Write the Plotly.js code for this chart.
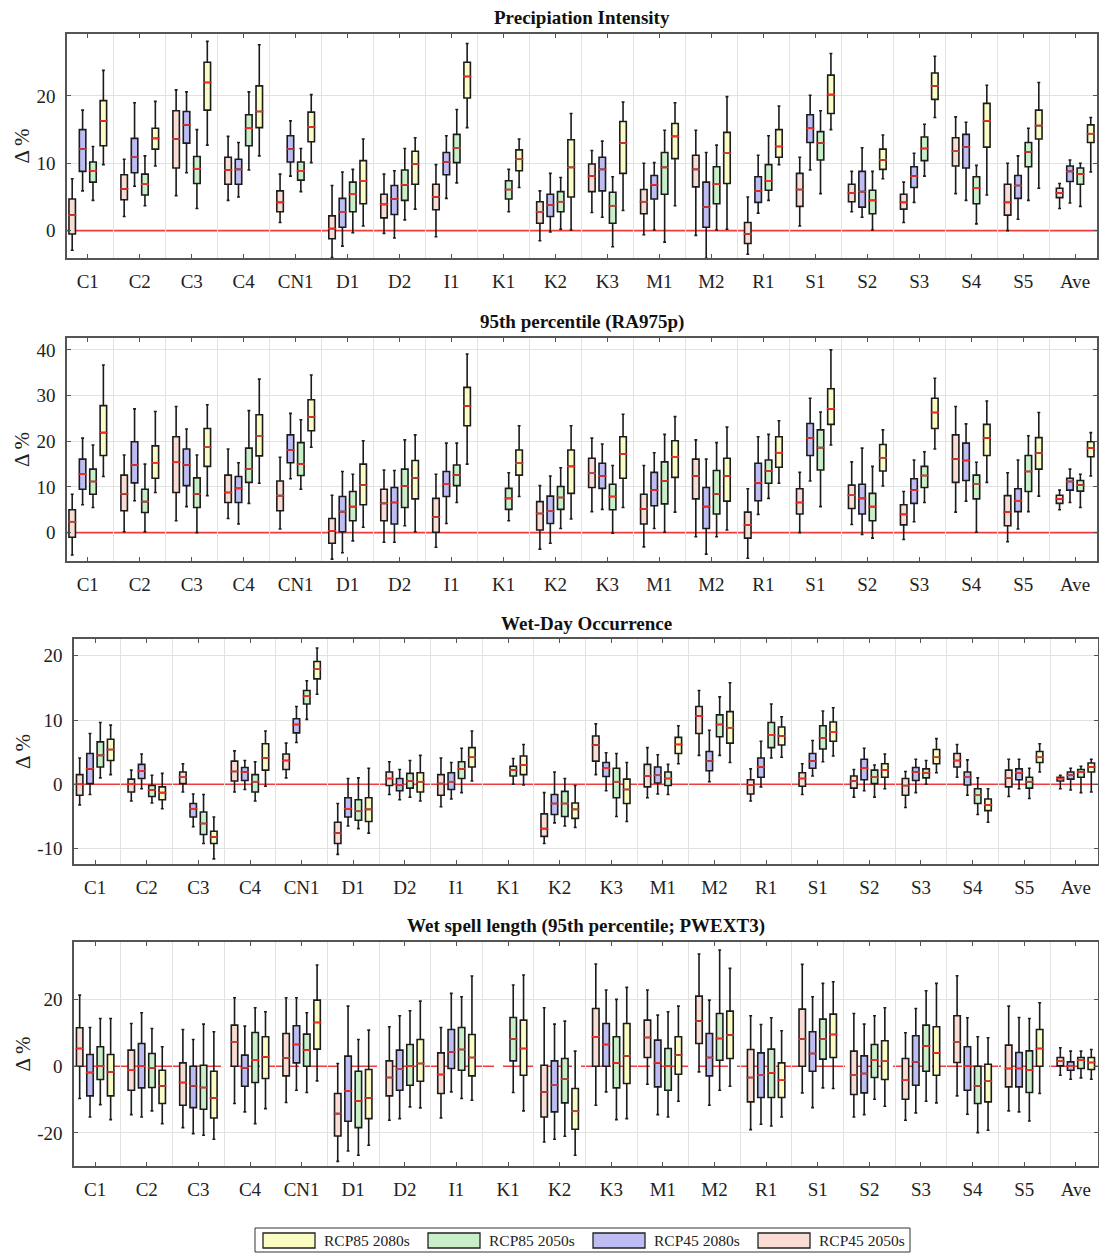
<!DOCTYPE html>
<html><head><meta charset="utf-8">
<script src="https://cdn.plot.ly/plotly-3.0.1.min.js"></script>
<style>html,body{margin:0;padding:0;background:#fff}#chart{width:1099px;height:1254px}</style>
</head><body><div id="chart"></div>
<script>
// ---------------- DATA ----------------
const categories = ['C1','C2','C3','C4','CN1','D1','D2','I1','K1','K2','K3','M1','M2','R1','S1','S2','S3','S4','S5','Ave'];
const seriesNames = ['RCP45 2050s','RCP45 2080s','RCP85 2050s','RCP85 2080s'];
const panelTitles = ['Precipiation Intensity','95th percentile (RA975p)','Wet-Day Occurrence','Wet spell length (95th percentile; PWEXT3)'];
const yTicks1 = [0,10,20];
const yTicks2 = [0,10,20,30,40];
const yTicks3 = [-10,0,10,20];
const yTicks4 = [-20,0,20];
// each row: [lower whisker, q1, median, q3, upper whisker]

// Panel 1: Precipitation intensity
const INT_45_2050s = [[-2.9,-0.5,2.3,4.7,7.7],[2.1,4.6,6.2,8.3,10.6],[5.2,9.3,13.6,17.8,20.9],[4.5,6.9,9.0,10.9,14.0],[1.2,2.8,4.2,5.9,8.4],[-4.0,-1.2,0.3,2.2,6.7],[-0.4,1.9,3.9,5.4,8.4],[-0.9,3.1,5.0,6.9,9.8],null,[-1.5,1.1,2.8,4.3,5.9],[2.7,5.8,8.1,9.9,11.9],[-0.6,2.5,4.3,6.1,10.0],[-0.7,6.5,9.1,11.2,14.9],[-3.5,-1.9,-0.5,1.2,5.0],[0.7,3.6,6.1,8.5,10.9],[2.8,4.3,5.6,6.9,8.8],[1.2,3.2,4.2,5.4,7.2],[5.5,9.6,11.8,13.8,16.9],[0.0,2.3,4.2,6.9,10.0],[3.3,4.9,5.6,6.3,7.0]];
const INT_45_2080s = [[5.9,8.8,12.1,15.0,17.9],[6.6,8.6,10.9,13.7,19.0],[8.6,13.0,15.7,17.7,20.6],[5.0,6.9,9.1,10.6,13.1],[8.1,10.2,12.1,14.1,16.3],[-2.3,0.5,2.8,4.8,8.7],[-1.1,2.4,4.7,6.7,8.9],[4.8,8.3,10.2,11.6,14.1],null,[-0.2,2.1,3.8,5.4,8.5],[2.0,5.9,9.1,10.9,13.3],[0.1,4.7,6.8,8.2,10.1],[-4.1,0.5,3.5,7.2,11.6],[2.6,4.2,5.9,8.0,11.2],[9.0,13.1,15.2,17.2,20.1],[2.0,3.5,5.8,8.8,12.3],[4.2,6.4,8.1,9.5,11.5],[4.5,9.3,12.4,14.3,16.1],[1.7,4.8,6.7,8.2,11.1],[4.1,7.3,8.8,9.6,10.5]];
const INT_85_2050s = [[4.5,7.2,8.9,10.2,12.5],[3.7,5.3,6.9,8.4,11.1],[3.3,7.0,9.2,11.0,15.0],[9.0,12.6,15.2,17.2,20.6],[5.8,7.5,8.9,10.2,12.2],[-0.3,2.8,5.4,7.2,9.1],[1.6,4.5,6.8,9.0,12.2],[7.1,10.1,12.3,14.3,18.0],[2.8,4.7,6.1,7.4,9.1],[0.2,2.8,4.3,5.8,7.9],[-2.4,1.1,3.7,5.7,8.0],[-1.7,5.4,9.4,11.6,14.9],[0.1,4.0,6.9,9.5,12.7],[4.5,6.0,7.4,9.8,14.1],[5.5,10.5,13.0,14.7,17.8],[0.1,2.5,4.5,6.0,8.8],[8.1,10.4,12.2,13.9,15.8],[1.0,4.0,6.3,8.0,9.7],[4.5,9.5,11.7,13.1,15.2],[3.6,6.9,8.4,9.3,10.0]];
const INT_85_2080s = [[9.8,12.6,16.3,19.3,23.8],[9.6,12.1,13.7,15.2,19.2],[12.7,17.9,22.0,25.0,28.1],[11.1,15.3,17.7,21.5,27.6],[10.1,13.2,15.4,17.6,20.2],[0.7,4.0,7.4,10.4,13.6],[3.2,6.9,9.9,11.8,13.8],[15.3,19.7,22.9,25.0,27.8],[6.4,8.9,10.6,12.0,13.6],[0.1,5.0,9.4,13.5,17.4],[3.0,8.5,13.0,16.2,19.1],[3.7,10.7,14.0,15.9,19.0],[0.2,7.0,11.5,14.6,19.9],[9.8,10.9,12.5,15.0,18.5],[15.0,17.4,20.2,23.1,26.3],[7.7,9.1,10.5,12.1,14.2],[16.8,19.5,21.5,23.4,25.9],[5.3,12.4,16.3,18.9,21.6],[6.3,13.6,15.6,17.9,22.0],[8.7,13.1,14.4,15.7,16.8]];

// Panel 2: 95th percentile (RA975p)
const P95_45_2050s = [[-4.9,-1.0,2.4,5.0,8.4],[0.2,4.8,8.5,12.6,17.0],[2.6,8.8,15.4,21.0,27.6],[3.1,6.6,8.8,12.6,18.3],[0.8,4.8,8.1,11.3,16.5],[-5.8,-2.3,0.4,3.1,8.2],[-2.1,2.6,6.4,9.5,13.7],[-3.2,0.1,3.4,7.5,12.8],null,[-3.6,0.6,4.2,6.8,10.3],[4.6,9.9,13.0,16.3,20.7],[-3.1,1.9,5.2,8.4,14.7],[-0.9,7.4,12.4,16.1,20.3],[-5.6,-1.2,1.7,4.5,9.6],[0.0,4.1,6.6,9.6,13.2],[1.8,5.3,8.2,10.4,15.5],[-1.5,1.7,4.0,6.1,9.0],[4.5,11.0,16.1,21.4,27.6],[-2.0,1.5,4.5,8.1,13.1],[5.0,6.4,7.4,8.2,9.3]];
const P95_45_2080s = [[6.1,9.5,12.8,16.1,20.7],[7.0,10.9,14.8,19.9,27.1],[5.7,10.3,14.8,18.3,22.7],[1.9,6.6,9.7,12.3,15.3],[11.8,15.3,18.1,21.4,26.1],[-4.4,0.2,4.6,7.9,13.4],[-2.1,1.9,6.6,9.9,13.6],[2.0,7.9,10.6,13.4,19.6],null,[-2.3,2.0,4.7,8.0,12.4],[5.1,9.7,12.4,15.2,19.4],[0.9,5.9,9.3,13.2,17.5],[-4.7,0.9,5.7,9.9,16.1],[4.0,7.0,10.9,15.2,21.0],[11.3,16.9,20.7,23.9,29.4],[-0.4,4.1,7.5,10.6,18.5],[2.4,6.4,9.3,11.8,15.9],[6.9,11.4,15.8,19.6,23.8],[0.8,4.6,7.0,9.6,15.9],[6.6,9.3,11.2,11.9,13.9]];
const P95_85_2050s = [[5.5,8.4,11.2,13.9,19.2],[0.2,4.4,6.8,9.5,15.0],[0.0,5.5,8.5,12.0,17.0],[6.4,11.0,13.9,18.5,26.7],[9.5,12.5,15.0,19.7,24.7],[-1.8,2.6,5.7,9.0,12.8],[1.5,5.5,10.2,13.9,20.3],[6.6,10.3,12.6,14.8,19.6],[2.6,5.1,7.5,9.7,13.1],[0.9,5.1,7.7,10.1,14.2],[-0.1,5.0,7.9,10.6,14.7],[0.1,6.3,11.3,15.5,21.5],[-0.9,4.1,8.5,13.6,19.7],[7.5,10.8,13.5,15.9,21.5],[5.7,13.7,18.6,22.5,26.4],[-1.2,2.6,5.7,8.6,14.5],[6.6,9.9,12.5,14.5,17.7],[0.1,7.4,10.7,12.6,15.4],[4.6,9.0,13.4,16.9,21.2],[5.5,9.1,10.4,11.4,12.8]];
const P95_85_2080s = [[12.3,16.9,21.9,27.8,36.7],[8.8,11.9,15.3,19.0,26.5],[8.1,14.5,18.7,22.8,28.0],[10.8,16.8,21.2,25.8,33.6],[18.7,22.3,25.3,29.1,34.5],[1.2,6.1,10.4,15.0,20.1],[0.2,7.4,12.0,15.8,21.4],[15.0,23.4,27.7,31.8,39.1],[7.9,12.6,15.2,18.1,23.4],[3.0,8.6,14.5,18.1,23.4],[5.5,11.9,17.2,21.0,25.9],[4.5,12.1,16.6,20.1,25.4],[0.6,6.9,12.4,16.3,23.1],[10.8,14.3,17.5,21.0,24.5],[19.2,23.7,27.1,31.5,40.0],[10.2,13.5,16.4,19.3,22.5],[18.3,22.8,26.3,29.4,33.8],[11.0,16.9,20.7,23.7,28.8],[8.0,13.9,17.4,20.8,26.3],[12.4,16.6,18.5,19.9,21.9]];

// Panel 3: Wet-day occurrence
const WDO_45_2050s = [[-3.2,-1.7,0.0,1.5,4.1],[-2.6,-1.2,0.0,0.8,2.2],[-1.2,0.1,1.1,1.9,3.2],[-1.2,0.5,2.0,3.6,5.2],[1.0,2.3,3.7,4.7,6.4],[-10.9,-9.2,-7.6,-5.9,-3.0],[-1.6,-0.2,0.9,1.9,3.5],[-3.5,-1.7,0.1,1.5,4.1],null,[-9.2,-8.1,-6.9,-4.6,-1.3],[1.5,3.6,6.1,7.5,9.4],[-2.1,-0.4,1.3,3.1,5.7],[4.5,7.9,10.6,12.1,14.6],[-2.6,-1.5,-0.1,0.7,2.4],[-1.6,-0.3,0.9,1.8,3.2],[-2.0,-0.6,0.5,1.3,2.3],[-3.6,-1.7,-0.2,0.9,2.0],[1.1,2.7,3.7,4.8,6.2],[-1.9,-0.4,1.0,2.2,3.9],[-0.7,0.5,0.9,1.1,1.4]];
const WDO_45_2080s = [[-1.6,0.1,2.4,4.8,7.9],[-0.7,0.9,2.1,3.1,4.7],[-6.6,-5.1,-3.8,-3.0,-1.5],[-0.8,0.6,1.9,2.6,3.7],[6.5,8.0,9.3,10.2,12.1],[-6.5,-5.1,-3.8,-2.1,0.9],[-2.4,-1.0,-0.1,0.9,2.3],[-2.3,-0.8,0.4,1.8,3.4],null,[-6.0,-4.7,-3.0,-1.6,1.9],[-1.0,1.2,2.5,3.4,4.9],[-1.5,0.2,1.4,2.7,4.6],[0.4,2.1,3.6,5.1,8.4],[-0.4,1.1,2.7,4.1,6.7],[1.3,2.5,3.6,4.8,6.8],[-1.0,0.7,2.5,3.9,5.6],[-1.3,0.6,1.9,2.6,3.9],[-1.7,-0.1,1.1,1.9,3.8],[-0.7,0.7,1.8,2.4,3.9],[-0.9,0.8,1.4,1.9,2.5]];
const WDO_85_2050s = [[1.0,2.7,4.5,6.6,9.6],[-2.9,-1.9,-0.9,-0.2,1.4],[-9.2,-7.8,-6.1,-4.3,-1.6],[-2.6,-1.2,0.4,1.5,3.5],[10.1,12.5,13.7,14.6,16.1],[-6.9,-5.6,-4.2,-2.4,1.0],[-2.0,-0.6,0.5,1.7,3.7],[-1.3,0.9,2.4,3.5,5.6],[0.0,1.3,2.2,2.8,4.0],[-6.5,-5.0,-3.0,-1.1,0.9],[-5.0,-2.1,0.4,2.5,4.8],[-1.6,-0.2,0.9,1.9,3.1],[4.5,7.4,9.3,10.8,13.6],[4.1,5.7,7.7,9.6,12.5],[3.5,5.5,7.2,9.1,11.4],[-2.0,0.1,1.1,2.2,3.0],[0.0,1.0,1.8,2.4,3.7],[-4.7,-3.0,-1.7,-0.7,1.0],[-2.2,-0.6,0.4,1.1,2.5],[-1.3,1.1,1.9,2.3,2.8]];
const WDO_85_2080s = [[1.5,3.7,5.4,7.0,9.2],[-3.8,-2.4,-1.3,-0.4,1.7],[-11.6,-9.2,-8.2,-7.3,-5.1],[-0.3,2.2,4.1,6.3,8.3],[14.0,16.4,17.9,19.1,21.2],[-7.6,-5.8,-3.9,-2.1,2.5],[-2.6,-1.2,0.4,1.8,4.5],[0.5,2.7,4.2,5.7,8.3],[-0.1,1.5,3.0,4.4,6.2],[-6.7,-5.3,-3.9,-2.9,-0.2],[-5.8,-3.0,-0.8,0.8,3.4],[3.2,4.8,6.2,7.3,9.1],[3.4,6.4,8.8,11.3,15.8],[4.2,6.1,7.5,8.9,10.5],[4.4,6.7,8.1,9.7,11.9],[-0.7,1.1,2.2,3.2,4.7],[1.8,3.2,4.2,5.4,7.1],[-5.9,-4.1,-3.2,-2.3,-0.7],[1.9,3.4,4.2,5.1,6.3],[-1.2,1.9,2.7,3.3,3.9]];

// Panel 4: Wet spell length (PWEXT3)
const WSL_45_2050s = [[-9.7,0.0,5.3,11.5,21.3],[-14.5,-7.2,-1.2,4.8,12.8],[-18.4,-11.7,-4.9,1.0,11.0],[-11.2,0.0,7.3,12.3,20.5],[-10.9,-2.9,2.5,9.8,20.5],[-28.5,-20.9,-14.2,-8.2,0.8],[-16.2,-8.9,-3.4,1.6,11.8],[-15.5,-8.2,-2.5,4.0,11.6],null,[-22.7,-15.2,-7.7,0.3,17.5],[-11.7,0.0,8.8,17.3,30.6],[-5.4,2.6,8.6,13.8,22.8],[-1.7,6.8,13.5,21.0,33.6],[-19.0,-10.7,-3.4,5.0,15.1],[-8.0,0.0,8.1,17.1,30.5],[-15.2,-8.5,-2.7,4.5,15.8],[-16.2,-9.9,-4.2,2.3,10.0],[-8.9,1.1,7.3,15.1,27.1],[-13.4,-6.2,-0.7,6.3,18.0],[-2.7,0.1,1.5,2.6,5.5]];
const WSL_45_2080s = [[-15.2,-8.9,-1.9,3.5,11.6],[-15.2,-6.5,0.0,6.8,16.0],[-20.2,-12.4,-5.9,0.0,8.0],[-13.7,-6.0,-0.5,3.3,12.0],[-7.2,1.0,6.5,12.1,20.5],[-25.4,-16.5,-7.4,3.0,18.0],[-15.7,-7.2,-0.9,4.8,15.1],[-7.7,-0.7,4.3,11.0,21.8],null,[-21.9,-13.7,-5.7,1.6,12.6],[-7.7,0.0,6.5,12.8,22.8],[-14.5,-6.2,1.0,7.8,15.3],[-11.7,-2.9,2.6,9.8,19.8],[-17.4,-9.4,-2.7,4.0,12.5],[-12.4,-1.5,3.8,10.3,20.8],[-14.5,-8.0,-2.2,3.1,12.6],[-14.0,-5.7,1.3,9.1,17.3],[-14.4,-7.2,0.0,5.8,14.5],[-13.7,-6.2,-0.7,4.1,14.6],[-3.9,-1.2,0.0,1.3,4.5]];
const WSL_85_2050s = [[-11.5,-4.0,0.0,5.8,14.3],[-13.4,-6.4,-0.5,3.8,11.3],[-20.7,-12.9,-6.4,0.3,12.6],[-17.2,-4.9,1.8,10.1,17.5],[-7.9,0.0,4.8,9.6,16.0],[-26.7,-18.4,-10.4,-1.5,8.0],[-12.2,-5.7,0.0,6.5,16.6],[-9.7,-1.2,5.0,11.6,20.8],[-7.9,1.6,8.1,14.6,24.3],[-21.0,-11.0,-3.9,2.3,13.5],[-16.0,-6.5,1.0,8.8,20.0],[-15.2,-7.2,0.0,5.3,16.3],[-7.2,1.8,8.3,15.8,34.8],[-17.9,-9.4,-2.0,5.1,14.5],[-6.5,2.1,8.1,14.1,24.8],[-9.9,-3.4,1.8,6.5,15.1],[-10.5,-1.5,6.0,12.3,22.6],[-19.9,-11.2,-5.9,0.0,8.8],[-16.4,-7.9,-1.2,4.6,14.3],[-3.5,-0.7,1.8,2.6,4.5]];
const WSL_85_2080s = [[-16.0,-8.9,-1.7,3.5,14.3],[-17.2,-11.2,-5.9,-1.2,5.8],[-21.9,-15.5,-9.5,-1.5,10.3],[-12.7,-3.7,2.8,8.8,16.3],[-4.4,5.1,13.1,19.8,30.3],[-23.7,-15.7,-9.5,-1.0,10.8],[-12.5,-4.5,0.8,8.0,19.5],[-10.2,-2.9,2.6,9.5,27.0],[-13.4,-2.7,5.3,13.8,27.3],[-26.7,-18.9,-13.5,-6.7,4.5],[-15.7,-5.2,3.1,12.8,23.6],[-10.5,-2.4,3.3,8.8,18.0],[-6.0,2.3,9.3,16.5,29.3],[-15.2,-9.4,-4.2,1.0,10.6],[-6.7,2.6,9.5,15.6,25.3],[-12.0,-4.0,1.5,7.6,17.5],[-11.0,-2.7,4.0,11.8,24.8],[-19.2,-10.7,-4.5,0.6,8.5],[-8.2,0.0,5.3,11.0,19.0],[-3.9,-1.0,1.1,2.6,5.0]];

// ---------------- STYLE / LAYOUT ----------------
const FONT = "'Liberation Serif','Times New Roman',serif";
const fills = ['#f9dcd3','#bdbdf3','#c8efc8','#fbfbc4'];
const offsets = [-0.3,-0.1,0.1,0.3];
const W = 1099, H = 1254;
const px = v => v / W, py = v => 1 - v / H;

const panels = [
  {data:[INT_45_2050s,INT_45_2080s,INT_85_2050s,INT_85_2080s], xpx:[67,1097], ypx:[34,258], xr:[-0.40,19.42], yr:[-4.06,29.2], yt:yTicks1, dash:'solid'},
  {data:[P95_45_2050s,P95_45_2080s,P95_85_2050s,P95_85_2080s], xpx:[67,1097], ypx:[338,561], xr:[-0.40,19.42], yr:[-6.2,42.6], yt:yTicks2, dash:'solid'},
  {data:[WDO_45_2050s,WDO_45_2080s,WDO_85_2050s,WDO_85_2080s], xpx:[74,1098], ypx:[639,864], xr:[-0.41,19.43], yr:[-12.4,22.6], yt:yTicks3, dash:'solid'},
  {data:[WSL_45_2050s,WSL_45_2080s,WSL_85_2050s,WSL_85_2080s], xpx:[74,1098], ypx:[942,1166], xr:[-0.41,19.43], yr:[-29.9,37.2], yt:yTicks4, dash:'30px,9px'}
];

const traces = [];
const layout = {
  width: W, height: H, margin:{l:0,r:0,t:0,b:0},
  paper_bgcolor:'#fff', plot_bgcolor:'#fff', showlegend:false,
  font:{family:FONT, color:'#222'},
  shapes:[], annotations:[]
};

panels.forEach((p, pi) => {
  const k = pi + 1;
  const xa = k === 1 ? 'x' : 'x' + k, ya = k === 1 ? 'y' : 'y' + k;
  p.data.forEach((rows, s) => {
    const x=[], lo=[], q1=[], med=[], q3=[], hi=[];
    rows.forEach((r, i) => {
      if (!r) return;
      x.push(i + offsets[s]); lo.push(r[0]); q1.push(r[1]); med.push(r[2]); q3.push(r[3]); hi.push(r[4]);
    });
    traces.push({type:'box', name:seriesNames[s], x:x, q1:q1, median:med, q3:q3, lowerfence:lo, upperfence:hi,
      xaxis:xa, yaxis:ya, width:0.125, whiskerwidth:0.45, boxpoints:false, fillcolor:fills[s],
      line:{color:'#1c1c1c', width:1.6}, hoverinfo:'skip', showlegend:false});
    traces.push({type:'scatter', mode:'markers', x:x, y:med, xaxis:xa, yaxis:ya, hoverinfo:'skip', showlegend:false,
      marker:{symbol:'line-ew', size:6, color:'#e8302a', line:{color:'#e8302a', width:1.6}}});
  });
  const axName = k === 1 ? '' : String(k);
  layout['xaxis' + axName] = {
    domain:[px(p.xpx[0]), px(p.xpx[1])], range:p.xr, anchor:ya,
    tickmode:'array', tickvals:categories.map((c,i)=>i), ticktext:categories,
    tickfont:{family:FONT, size:19, color:'#222'}, ticklabelstandoff:6,
    ticks:'inside', ticklen:4, tickcolor:'#555', showgrid:false, zeroline:false,
    showline:true, linecolor:'#555', linewidth:1.6, mirror:'ticks',
    minor:{tickmode:'array', tickvals:categories.map((c,i)=>i+0.5), showgrid:true, gridcolor:'#e2e2e2', gridwidth:1, ticklen:0},
    fixedrange:true
  };
  layout['yaxis' + axName] = {
    domain:[py(p.ypx[1]), py(p.ypx[0])], range:p.yr, anchor:xa,
    tickmode:'array', tickvals:p.yt, ticktext:p.yt.map(v => String(v)),
    tickfont:{family:FONT, size:19, color:'#222'}, ticklabelstandoff:6,
    ticks:'inside', ticklen:4, tickcolor:'#555', showgrid:false, zeroline:false,
    minor:{tickmode:'array', tickvals:p.yt.filter(v => v !== 0), showgrid:true, gridcolor:'#e2e2e2', gridwidth:1, ticklen:0},
    showline:true, linecolor:'#555', linewidth:1.6, mirror:'ticks',
    title:{text:'Δ %', font:{family:FONT, size:21, color:'#222'}, standoff:1},
    fixedrange:true
  };
  layout.shapes.push({type:'line', xref:xa + ' domain', x0:0, x1:1, yref:ya, y0:0, y1:0,
    line:{color:'#f03c3c', width:1.6, dash:p.dash}, layer:'below'});
  layout.annotations.push({text:'<b>' + panelTitles[pi] + '</b>', xref:'paper', yref:'paper',
    x:px((p.xpx[0] + p.xpx[1]) / 2), y:py(p.ypx[0] - 16), xanchor:'center', yanchor:'middle',
    showarrow:false, font:{family:FONT, size:19, color:'#111'}});
});

// custom legend box at bottom (order: RCP85 2080s, RCP85 2050s, RCP45 2080s, RCP45 2050s)
layout.shapes.push({type:'rect', xref:'paper', yref:'paper', x0:px(255), x1:px(910), y0:py(1252), y1:py(1228),
  line:{color:'#333', width:1}, fillcolor:'#fff', layer:'above'});
[3,2,1,0].forEach((s, j) => {
  const x0 = 263 + j * 165;
  layout.shapes.push({type:'rect', xref:'paper', yref:'paper', x0:px(x0), x1:px(x0 + 52), y0:py(1248), y1:py(1233),
    line:{color:'#222', width:1.3}, fillcolor:fills[s], layer:'above'});
  layout.annotations.push({text:seriesNames[s], xref:'paper', yref:'paper', x:px(x0 + 59), y:py(1240.5),
    xanchor:'left', yanchor:'middle', showarrow:false, font:{family:FONT, size:15.5, color:'#222'}});
});

Plotly.newPlot('chart', traces, layout, {staticPlot:true, displayModeBar:false});
</script>
</body></html>
